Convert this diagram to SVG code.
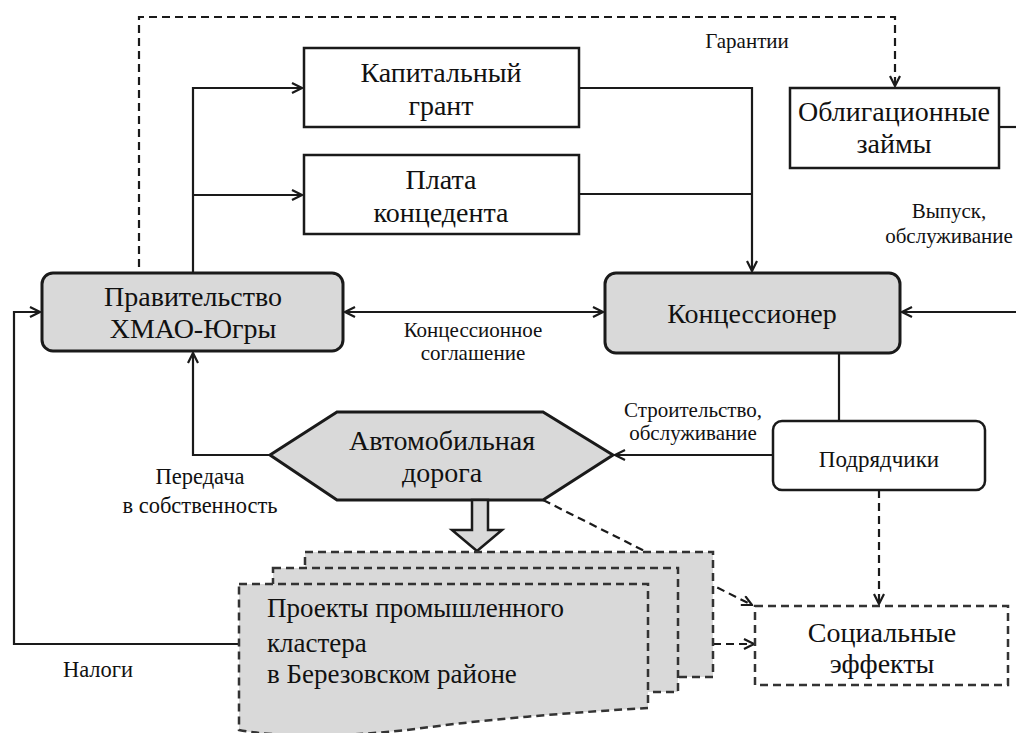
<svg xmlns="http://www.w3.org/2000/svg" width="1016" height="733" viewBox="0 0 1016 733">
<defs>
<marker id="ah" viewBox="0 0 12 12" refX="11" refY="6" markerWidth="12" markerHeight="12" markerUnits="userSpaceOnUse" orient="auto-start-reverse">
<path d="M1,1 L11,6 L1,11" fill="none" stroke="#1a1a1a" stroke-width="2.2"/>
</marker>
<style>
.box{fill:#fff;stroke:#1a1a1a;stroke-width:2.5}
.gbox{fill:#d9d9d9;stroke:#1a1a1a;stroke-width:3}
.doc{fill:#d9d9d9;stroke:#333;stroke-width:2.5;stroke-dasharray:8 5}
.dbox{fill:#fff;stroke:#333;stroke-width:2.5;stroke-dasharray:8 5}
.dl{stroke-dasharray:8 5}
text{fill:#111}
.t{font-size:28px;text-anchor:middle}
.s{font-size:21px;text-anchor:middle}
.m{font-size:22.5px;text-anchor:middle}
.l{font-size:27px;text-anchor:start}
</style>
</defs>
<rect width="1016" height="733" fill="#fff"/>

<g id="connectors" fill="none" stroke="#1a1a1a" stroke-width="2.2">
<path class="dl" d="M139,267 V17 H895 V86" marker-end="url(#ah)"/>
<path d="M193,273 V88 H302" marker-end="url(#ah)"/>
<path d="M193,195 H302" marker-end="url(#ah)"/>
<path d="M579,88 H752 V271" marker-end="url(#ah)"/>
<path d="M579,194 H752"/>
<path d="M345,312 H603" marker-start="url(#ah)" marker-end="url(#ah)"/>
<path d="M1016,312 H902" marker-end="url(#ah)"/>
<path d="M999,127 H1016"/>
<path d="M839,353 V421"/>
<path d="M773,455 H615" marker-end="url(#ah)"/>
<path d="M270,455 H193 V353" marker-end="url(#ah)"/>
<path d="M239,644 H14 V312 H40" marker-end="url(#ah)"/>
<path class="dl" d="M543,500 L752,605" marker-end="url(#ah)"/>
<path class="dl" d="M713,644 H754" marker-end="url(#ah)"/>
<path class="dl" d="M879,490 V604" marker-end="url(#ah)"/>
</g>

<g id="labels">
<text class="s" x="747" y="48" style="font-family:'Liberation Serif',serif">Гарантии</text>
<text class="s" x="949" y="218" style="font-family:'Liberation Serif',serif">Выпуск,</text>
<text class="s" x="949" y="243" style="font-family:'Liberation Serif',serif">обслуживание</text>
<text class="s" x="473" y="337" style="font-family:'Liberation Serif',serif">Концессионное</text>
<text class="s" x="473" y="360" style="font-family:'Liberation Serif',serif">соглашение</text>
<text class="s" x="693" y="417" style="font-family:'Liberation Serif',serif">Строительство,</text>
<text class="s" x="693" y="440" style="font-family:'Liberation Serif',serif">обслуживание</text>
<text class="m" x="200" y="484" style="font-family:'Liberation Serif',serif">Передача</text>
<text class="m" x="200" y="513" style="font-family:'Liberation Serif',serif">в собственность</text>
<text class="m" x="98" y="677" style="font-family:'Liberation Serif',serif">Налоги</text>
</g>

<g id="capital-grant">
<rect class="box" x="304" y="48" width="275" height="79"/>
<text class="t" x="441" y="82" style="font-family:'Liberation Serif',serif">Капитальный</text>
<text class="t" x="441" y="115" style="font-family:'Liberation Serif',serif">грант</text>
</g>

<g id="concedent-fee">
<rect class="box" x="304" y="155" width="275" height="79"/>
<text class="t" x="441" y="189" style="font-family:'Liberation Serif',serif">Плата</text>
<text class="t" x="441" y="222" style="font-family:'Liberation Serif',serif">концедента</text>
</g>

<g id="bonds">
<rect class="box" x="790" y="88" width="209" height="80"/>
<text class="t" x="894" y="121" style="font-family:'Liberation Serif',serif">Облигационные</text>
<text class="t" x="894" y="153" style="font-family:'Liberation Serif',serif">займы</text>
</g>

<g id="government">
<rect class="gbox" x="42" y="273" width="301" height="78" rx="11"/>
<text class="t" x="193" y="306" style="font-family:'Liberation Serif',serif">Правительство</text>
<text class="t" x="193" y="338" style="font-family:'Liberation Serif',serif">ХМАО-Югры</text>
</g>

<g id="concessionaire">
<rect class="gbox" x="605" y="273" width="295" height="80" rx="11"/>
<text class="t" x="752" y="323" style="font-family:'Liberation Serif',serif">Концессионер</text>
</g>

<g id="contractors">
<rect class="box" x="773" y="421" width="212" height="69" rx="9"/>
<text class="m" x="879" y="467" style="font-family:'Liberation Serif',serif;font-size:23px">Подрядчики</text>
</g>

<g id="road">
<polygon class="gbox" points="270,455 337,412 543,412 613,455 543,500 337,500"/>
<text class="t" x="442" y="450" style="font-family:'Liberation Serif',serif">Автомобильная</text>
<text class="t" x="442" y="482" style="font-family:'Liberation Serif',serif">дорога</text>
<polygon fill="#d9d9d9" stroke="#1a1a1a" stroke-width="2.5" points="472,500 488,500 488,530 502,530 477,551 452,530 472,530"/>
</g>

<g id="projects">
<rect class="doc" x="305" y="552" width="408" height="125"/>
<rect class="doc" x="273" y="568" width="405" height="124"/>
<path class="doc" d="M239,584 H648 V708 C580,712 500,718 430,727 C360,737 280,738 239,730 Z"/>
<text class="l" x="267" y="617" style="font-family:'Liberation Serif',serif">Проекты промышленного</text>
<text class="l" x="267" y="652" style="font-family:'Liberation Serif',serif">кластера</text>
<text class="l" x="267" y="683" style="font-family:'Liberation Serif',serif">в Березовском районе</text>
</g>

<g id="social-effects">
<rect class="dbox" x="755" y="606" width="253" height="79"/>
<text class="t" x="882" y="642" style="font-family:'Liberation Serif',serif">Социальные</text>
<text class="t" x="882" y="673" style="font-family:'Liberation Serif',serif">эффекты</text>
</g>
</svg>
